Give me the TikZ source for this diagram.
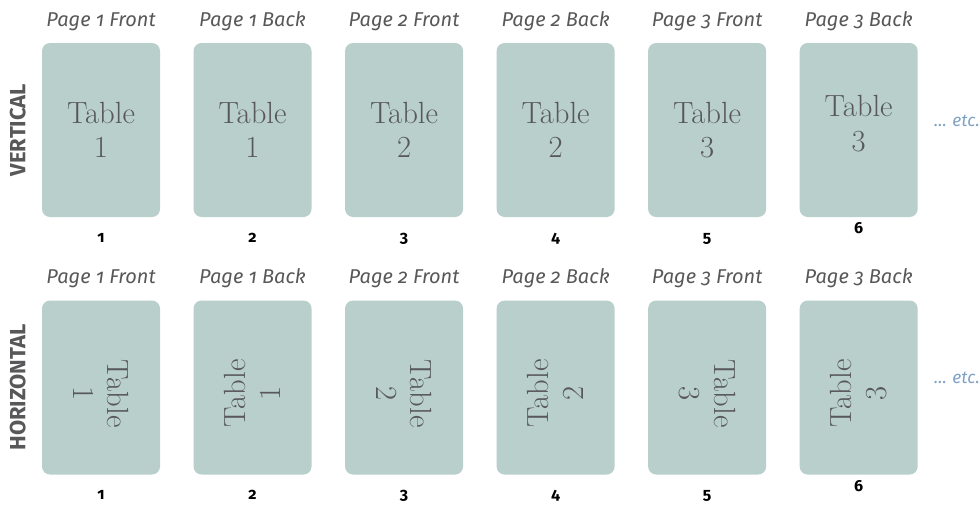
\documentclass[tikz,border=0pt]{standalone}
\usepackage{fontspec}
\usepackage{xcolor}
\usetikzlibrary{positioning}
\newfontfamily\firafont{Fira Sans}[Numbers=OldStyle]
\definecolor{kartu}{HTML}{B9CFCC}
\definecolor{tinta}{HTML}{58585A}
\definecolor{etcbiru}{HTML}{7FA1C3}
\tikzset{
  card/.style={rectangle, rounded corners=6pt, fill=kartu, draw=none,
    minimum width=88.5pt, minimum height=130.5pt, inner sep=0pt},
  tabletext/.style={align=center, text=tinta, inner sep=0pt,
    font=\fontsize{23pt}{26pt}\selectfont},
  tablefront/.style={tabletext, rotate=-90},
  tableback/.style={tabletext, rotate=90},
  pagelabel/.style={anchor=base, text=tinta, inner sep=0pt,
    font=\firafont\itshape\fontsize{15pt}{18pt}\selectfont},
  pagenum/.style={anchor=base, text=black, inner sep=0pt,
    font=\firafont\bfseries\fontsize{12pt}{14pt}\selectfont},
  rowlabel/.style={rotate=90, text=tinta, inner sep=0pt,
    font=\firafont\bfseries\fontsize{16.5pt}{18pt}\selectfont},
  etclabel/.style={anchor=base west, text=etcbiru, inner sep=0pt,
    font=\firafont\itshape\fontsize{13pt}{15pt}\selectfont}
}
\begin{document}
\begin{tikzpicture}[node distance={62.25pt and 24.75pt}]
  \useasboundingbox (0,0) rectangle (735pt,-378pt);
  % vertical row
  \node[card] (v1) at (75.75pt,-97.5pt) {};
  \node[card, right=of v1] (v2) {};
  \node[card, right=of v2] (v3) {};
  \node[card, right=of v3] (v4) {};
  \node[card, right=of v4] (v5) {};
  \node[card, right=of v5] (v6) {};
  % horizontal row
  \node[card, below=of v1] (h1) {};
  \node[card, right=of h1] (h2) {};
  \node[card, right=of h2] (h3) {};
  \node[card, right=of h3] (h4) {};
  \node[card, right=of h4] (h5) {};
  \node[card, right=of h5] (h6) {};

  \node[tabletext] (tv1) at (v1) {Table\\1};
  \node[tabletext] (tv2) at (v2) {Table\\1};
  \node[tabletext] (tv3) at (v3) {Table\\2};
  \node[tabletext] (tv4) at (v4) {Table\\2};
  \node[tabletext] (tv5) at (v5) {Table\\3};
  \node[tabletext] (tv6) at ([yshift=5pt]v6.center) {Table\\3};

  \node[tablefront] (th1) at ([yshift=-4.5pt]h1.center) {Table\\1};
  \node[tableback] (th2) at ([yshift=-4.5pt]h2.center) {Table\\1};
  \node[tablefront] (th3) at ([yshift=-4.5pt]h3.center) {Table\\2};
  \node[tableback] (th4) at ([yshift=-4.5pt]h4.center) {Table\\2};
  \node[tablefront] (th5) at ([yshift=-4.5pt]h5.center) {Table\\3};
  \node[tableback] (th6) at ([yshift=-4.5pt]h6.center) {Table\\3};

  % page labels
  \node[pagelabel] (pv1) at ([yshift=12pt]v1.north) {Page 1 Front};
  \node[pagelabel] (pv2) at ([yshift=12pt]v2.north) {Page 1 Back};
  \node[pagelabel] (pv3) at ([yshift=12pt]v3.north) {Page 2 Front};
  \node[pagelabel] (pv4) at ([yshift=12pt]v4.north) {Page 2 Back};
  \node[pagelabel] (pv5) at ([yshift=12pt]v5.north) {Page 3 Front};
  \node[pagelabel] (pv6) at ([yshift=12pt]v6.north) {Page 3 Back};
  \node[pagelabel] (ph1) at ([yshift=12.75pt]h1.north) {Page 1 Front};
  \node[pagelabel] (ph2) at ([yshift=12.75pt]h2.north) {Page 1 Back};
  \node[pagelabel] (ph3) at ([yshift=12.75pt]h3.north) {Page 2 Front};
  \node[pagelabel] (ph4) at ([yshift=12.75pt]h4.north) {Page 2 Back};
  \node[pagelabel] (ph5) at ([yshift=12.75pt]h5.north) {Page 3 Front};
  \node[pagelabel] (ph6) at ([yshift=12.75pt]h6.north) {Page 3 Back};

  % sheet numbers
  \node[pagenum] (nv1) at ([yshift=-18.75pt]v1.south) {1};
  \node[pagenum] (nv2) at ([yshift=-18.75pt]v2.south) {2};
  \node[pagenum] (nv3) at ([yshift=-18.75pt]v3.south) {3};
  \node[pagenum] (nv4) at ([yshift=-18.75pt]v4.south) {4};
  \node[pagenum] (nv5) at ([yshift=-18.75pt]v5.south) {5};
  \node[pagenum] (nv6) at ([yshift=-12pt]v6.south) {6};
  \node[pagenum] (nh1) at ([yshift=-18.5pt]h1.south) {1};
  \node[pagenum] (nh2) at ([yshift=-18.5pt]h2.south) {2};
  \node[pagenum] (nh3) at ([yshift=-18.5pt]h3.south) {3};
  \node[pagenum] (nh4) at ([yshift=-18.5pt]h4.south) {4};
  \node[pagenum] (nh5) at ([yshift=-18.5pt]h5.south) {5};
  \node[pagenum] (nh6) at ([yshift=-12.5pt]h6.south) {6};

  % row labels
  \node[rowlabel] (rv) at ([xshift=-18pt]v1.west) {VERTICAL};
  \node[rowlabel] (rh) at ([xshift=-18pt]h1.west) {HORIZONTAL};

  \node[etclabel] (ev) at ([xshift=12pt,yshift=3pt]v6.east) {...\,\,etc.};
  \node[etclabel] (eh) at ([xshift=12pt,yshift=3pt]h6.east) {...\,\,etc.};
\end{tikzpicture}
\end{document}
